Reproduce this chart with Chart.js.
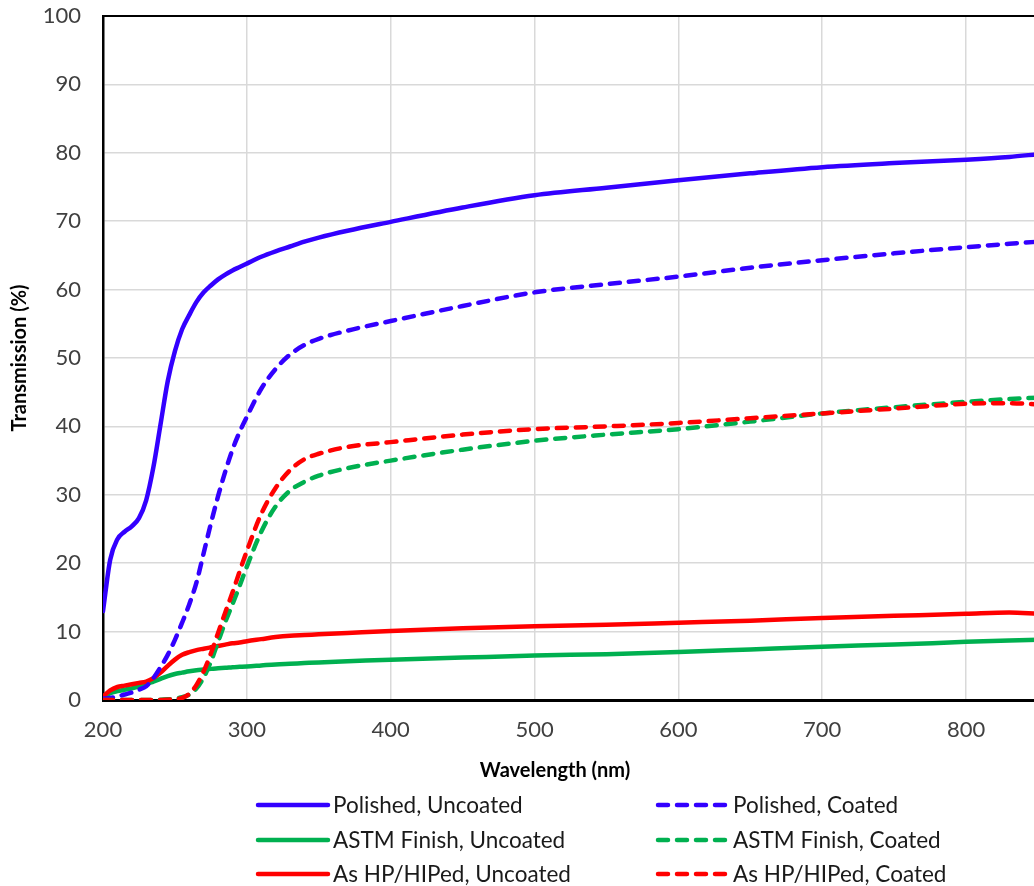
<!DOCTYPE html>
<html>
<head>
<meta charset="utf-8">
<script src="https://cdn.jsdelivr.net/npm/chart.js@4/dist/chart.umd.min.js"></script>
<style>
  html, body { margin: 0; padding: 0; background: #fff; overflow: hidden; width: 1034px; height: 886px; }
  #wrap { position: absolute; left: 0; top: 0; width: 1040px; height: 886px; }
  canvas { display: block; }
</style>
</head>
<body>
<div id="wrap"><canvas id="c" width="1040" height="886"></canvas></div>
<script>
// ---- data ----
const wavelengths = [200,205,210,215,220,225,230,235,240,245,250,255,260,265,270,275,280,285,290,295,300,310,320,330,340,350,370,400,450,500,550,600,650,700,750,800,830,850];

const polishedUncoated = [13,20.5,23.5,24.6,25.4,26.6,29.2,34,40.3,46.6,51,54.2,56.3,58.2,59.6,60.6,61.5,62.2,62.8,63.3,63.8,64.8,65.6,66.3,67,67.6,68.6,69.9,72,73.8,74.9,76,77,77.9,78.5,79.0,79.4,79.8];
const polishedCoated   = [0.2,0.3,0.5,0.8,1.1,1.5,2.0,3.2,4.8,6.6,8.8,11.3,14.0,17.2,21.5,25.8,29.8,33.4,36.6,39.2,41.4,45.5,48.4,50.5,51.9,52.8,54.0,55.4,57.6,59.6,60.8,61.9,63.2,64.3,65.3,66.2,66.7,67.0];
const astmUncoated     = [0.3,1.0,1.3,1.5,1.7,2.0,2.3,2.7,3.1,3.5,3.8,4.0,4.2,4.35,4.45,4.55,4.65,4.7,4.8,4.85,4.9,5.05,5.2,5.3,5.4,5.5,5.65,5.9,6.2,6.5,6.7,7.0,7.4,7.8,8.1,8.5,8.7,8.8];
const astmCoated       = [0,0,0,0,0,0,0,0,0.05,0.1,0.2,0.4,0.8,1.7,3.3,5.6,8.5,11.4,14.0,16.7,19.5,24.6,28.3,30.6,31.9,32.8,33.9,35.0,36.6,37.9,38.8,39.6,40.7,41.9,42.8,43.6,44.0,44.2];
const hipUncoated      = [0.5,1.4,1.9,2.1,2.3,2.5,2.7,3.2,4.0,5.0,5.9,6.6,7.0,7.3,7.5,7.7,7.9,8.1,8.3,8.4,8.6,8.9,9.2,9.4,9.5,9.6,9.8,10.1,10.5,10.8,11.0,11.3,11.6,12.0,12.3,12.6,12.8,12.6];
const hipCoated        = [0,0,0,0,0,0,0,0,0,0.05,0.1,0.3,0.9,2.2,4.2,6.8,9.8,12.8,15.7,18.8,21.8,27.2,31.0,33.6,35.2,36.0,37.0,37.7,38.8,39.6,40.0,40.5,41.2,41.9,42.6,43.3,43.4,43.2];

const seriesLabels = ['Polished, Uncoated','Polished, Coated','ASTM Finish, Uncoated','ASTM Finish, Coated','As HP/HIPed, Uncoated','As HP/HIPed, Coated'];
const seriesValues = [polishedUncoated, polishedCoated, astmUncoated, astmCoated, hipUncoated, hipCoated];
const seriesColors = ['#3300FF','#3300FF','#00B050','#00B050','#FF0000','#FF0000'];
const seriesDashed = [false,true,false,true,false,true];

const xTitle = 'Wavelength (nm)';
const yTitle = 'Transmission (%)';
const xMin = 200, xMax = 850, xStep = 100;
const yMin = 0, yMax = 100, yStep = 10;

const FONT = 'Lato, "Open Sans", sans-serif';
const DASH = [10, 9];

const datasets = seriesLabels.map((lab, i) => ({
  label: lab,
  data: wavelengths.map((w, k) => ({x: w, y: seriesValues[i][k]})),
  borderColor: seriesColors[i],
  backgroundColor: seriesColors[i],
  borderWidth: 4.5,
  borderDash: seriesDashed[i] ? DASH : [],
  borderCapStyle: 'round',
  borderJoinStyle: 'round',
  pointRadius: 0,
  showLine: true,
  fill: false,
  cubicInterpolationMode: 'monotone'
}));
// draw order: dashed lines on top of solid ones, as in the reference
const order = [2,4,0,1,3,5];
datasets.forEach((d, i) => d.order = 6 - order.indexOf(i));

const legendPlugin = {
  id: 'customLegend',
  afterDraw(chart) {
    const ctx = chart.ctx;
    const ca = chart.chartArea;
    // top frame line
    ctx.save();
    ctx.strokeStyle = '#000';
    ctx.lineWidth = 2;
    ctx.beginPath();
    ctx.moveTo(ca.left - 1, ca.top);
    ctx.lineTo(ca.right, ca.top);
    ctx.stroke();

    // x axis title
    ctx.font = 'bold 20px ' + FONT;
    ctx.fillStyle = '#000';
    ctx.textAlign = 'center';
    ctx.textBaseline = 'middle';
    ctx.fillText(xTitle, 555, 771);
    ctx.restore();

    const cols = [{lx0: 258, lx1: 328, tx: 333}, {lx0: 658, lx1: 726, tx: 733}];
    const rows = [805, 840, 874];
    ctx.save();
    ctx.font = '22.5px ' + FONT;
    ctx.textBaseline = 'middle';
    ctx.fillStyle = '#1a1a1a';
    chart.data.datasets.forEach((ds, i) => {
      const c = cols[i % 2];
      const y = rows[Math.floor(i / 2)];
      ctx.strokeStyle = ds.borderColor;
      ctx.lineWidth = 4.5;
      ctx.lineCap = 'round';
      ctx.setLineDash(ds.borderDash || []);
      ctx.beginPath();
      ctx.moveTo(c.lx0, y);
      ctx.lineTo(c.lx1, y);
      ctx.stroke();
      ctx.setLineDash([]);
      ctx.fillText(ds.label, c.tx, y + 1);
    });
    ctx.restore();
  }
};

new Chart(document.getElementById('c'), {
  type: 'scatter',
  data: { datasets },
  plugins: [legendPlugin],
  options: {
    responsive: false,
    animation: false,
    devicePixelRatio: 1,
    layout: { padding: { top: 16, right: 2, bottom: 103, left: 0 } },
    plugins: { legend: { display: false }, tooltip: { enabled: false } },
    scales: {
      x: {
        type: 'linear',
        min: xMin, max: xMax,
        afterFit(s) { s.height = 83; },
        ticks: { stepSize: xStep, includeBounds: false, padding: 17, color: '#404040', font: { family: FONT, size: 22 } },
        grid: { color: '#d9d9d9', lineWidth: 1.5, drawTicks: false },
        border: { color: '#000', width: 3 },
        title: { display: false, text: xTitle }
      },
      y: {
        type: 'linear',
        min: yMin, max: yMax,
        afterFit(s) { s.width = 103; s.paddingTop = 0; s.paddingBottom = 0; },
        ticks: { stepSize: yStep, padding: 22, color: '#404040', font: { family: FONT, size: 22 } },
        grid: { color: '#d9d9d9', lineWidth: 1.5, drawTicks: false },
        border: { color: '#000', width: 2.5 },
        title: { display: true, text: yTitle, color: '#000', font: { family: FONT, size: 20, weight: 'bold' }, padding: { top: 8, bottom: 0 } }
      }
    }
  }
});
</script>
</body>
</html>
